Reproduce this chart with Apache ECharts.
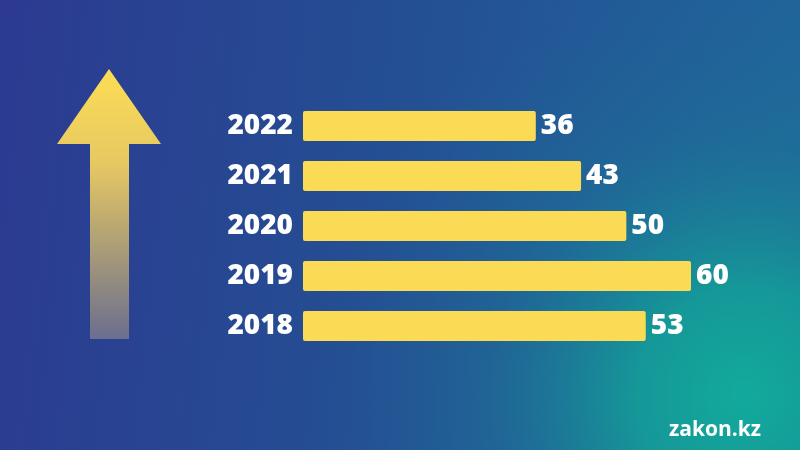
<!DOCTYPE html>
<html>
<head>
<meta charset="utf-8">
<script src="https://cdn.jsdelivr.net/npm/echarts@6/dist/echarts.min.js"></script>
<style>html,body{margin:0;padding:0;}#c{width:800px;height:450px;}</style>
</head>
<body>
<div id="c"></div>
<script>
var years = ['2018', '2019', '2020', '2021', '2022'];
var values = [53, 60, 50, 43, 36];
var brand = 'zakon.kz';

var chart = echarts.init(document.getElementById('c'), null, {renderer: 'canvas'});
var font = '"Open Sans", "DejaVu Sans", sans-serif';
chart.setOption({
  backgroundColor: {
    type: 'linear', x: 0, y: 0, x2: 1, y2: 0.2,
    colorStops: [{offset: 0, color: '#2c3a91'}, {offset: 0.5, color: '#244f93'}, {offset: 1, color: '#20659b'}]
  },
  graphic: [
    {
      type: 'rect', z: -10, silent: true,
      shape: {x: 0, y: 0, width: 800, height: 450},
      style: {
        fill: {
          type: 'radial', x: 0.93, y: 0.88, r: 0.95,
          colorStops: [
            {offset: 0, color: 'rgba(18,170,156,1)'},
            {offset: 0.25, color: 'rgba(20,158,152,0.9)'},
            {offset: 0.6, color: 'rgba(28,120,150,0.4)'},
            {offset: 1, color: 'rgba(30,100,150,0)'}
          ]
        }
      }
    },
    {
      type: 'polygon', silent: true,
      shape: {points: [[109, 69], [161, 144], [129, 144], [129, 339], [90, 339], [90, 144], [57, 144]]},
      style: {
        fill: {
          type: 'linear', x: 0, y: 0, x2: 0, y2: 1, global: false,
          colorStops: [
            {offset: 0, color: '#fcdd55'},
            {offset: 0.35, color: '#e6c862'},
            {offset: 1, color: '#6b6e8e'}
          ]
        }
      }
    },
    {
      type: 'text', silent: true,
      left: 669, top: 420,
      style: {text: brand, fill: '#ffffff', font: 'bold 21px ' + font}
    }
  ],
  grid: {left: 303, right: 109, top: 101, bottom: 99, containLabel: false},
  xAxis: {
    type: 'value', min: 0, max: 60, show: false
  },
  yAxis: {
    type: 'category', data: years,
    axisLine: {show: false}, axisTick: {show: false}, splitLine: {show: false},
    axisLabel: {
      color: '#ffffff', fontSize: 28, fontWeight: 800, fontFamily: font, margin: 10
    }
  },
  series: [{
    type: 'bar', data: values, barWidth: 30,
    itemStyle: {color: '#fbdb55', borderRadius: 2},
    label: {
      show: true, position: 'right', distance: 5,
      color: '#ffffff', fontSize: 28, fontWeight: 800, fontFamily: font
    },
    silent: true, animation: false
  }],
  animation: false
});
</script>
</body>
</html>
